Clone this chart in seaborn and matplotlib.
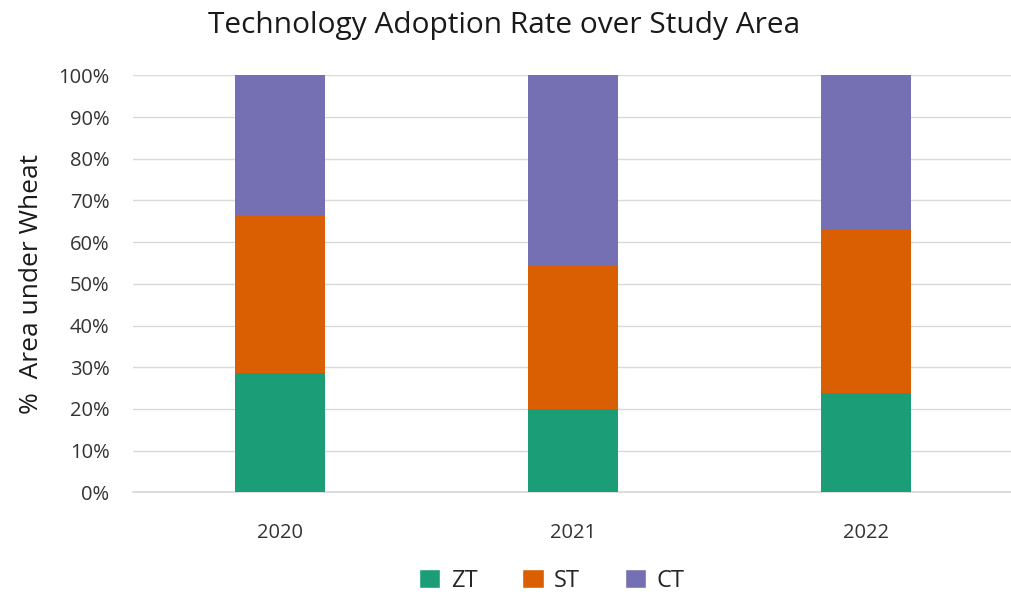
import matplotlib

matplotlib.use("Agg")

import matplotlib.pyplot as plt
import numpy as np
import pandas as pd
import seaborn as sns
from matplotlib.patches import Patch
from matplotlib.ticker import PercentFormatter

years = ["2020", "2021", "2022"]
zt = [28.6, 20.0, 23.7]
st = [37.9, 34.6, 39.3]
ct = [33.5, 45.4, 37.0]

series_names = ["ZT", "ST", "CT"]
colors = {"ZT": "#1b9e77", "ST": "#d95f02", "CT": "#7570b3"}

sns.set_theme(style="white")
plt.rcParams["font.family"] = ["Open Sans", "DejaVu Sans"]

df = pd.DataFrame({"year": years, "ZT": zt, "ST": st, "CT": ct})
# cumulative tops for stacking, drawn from the tallest down
df["ST_top"] = df["ZT"] + df["ST"]
df["CT_top"] = df["ST_top"] + df["CT"]

fig = plt.figure(figsize=(10.11, 6.13), dpi=100)
ax = fig.add_axes([0.1316, 0.197, 0.870, 0.680])

for col, name in [("CT_top", "CT"), ("ST_top", "ST"), ("ZT", "ZT")]:
    sns.barplot(data=df, x="year", y=col, color=colors[name], width=0.307,
                saturation=1, linewidth=0, ax=ax, zorder=3)

ax.set_xlim(-0.5, 2.5)
ax.set_ylim(0, 100)
ax.set_yticks(np.arange(0, 101, 10))
ax.yaxis.set_major_formatter(PercentFormatter(decimals=0))
ax.grid(axis="y", color="#d9d9d9", linewidth=1, zorder=0)
for s in ["top", "right", "left"]:
    ax.spines[s].set_visible(False)
ax.spines["bottom"].set_color("#d9d9d9")
ax.tick_params(axis="both", length=0, labelsize=14.5, colors="#333333")
ax.tick_params(axis="y", pad=17)
ax.tick_params(axis="x", pad=22)
ax.set_xlabel("")
ax.set_ylabel("%  Area under Wheat", fontsize=19, color="#1a1a1a", labelpad=10)

fig.text(0.499, 0.958, "Technology Adoption Rate over Study Area",
         ha="center", va="center", fontsize=21.5, color="#1a1a1a")

handles = [Patch(facecolor=colors[n], label=n) for n in series_names]
fig.legend(handles=handles, loc="center", bbox_to_anchor=(0.546, 0.053), ncol=3,
           frameon=False, fontsize=17, handlelength=0.9, handleheight=0.9,
           handletextpad=0.45, columnspacing=1.9)

fig.savefig("out.png", dpi=100)
